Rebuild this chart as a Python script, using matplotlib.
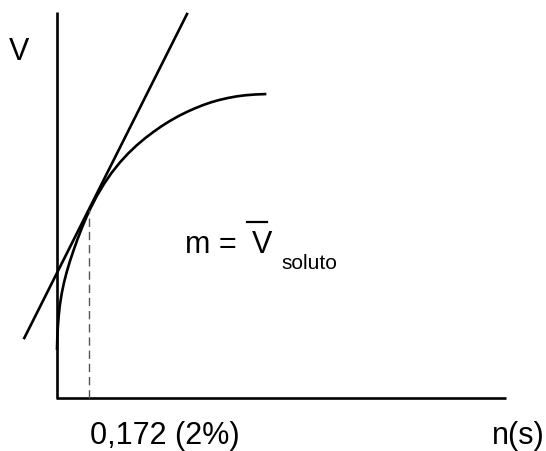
import numpy as np
import matplotlib
matplotlib.use("Agg")
import matplotlib.pyplot as plt

plt.rcParams['font.family'] = ['Liberation Sans', 'DejaVu Sans']

# curve V vs n(s) (arbitrary units, origin at axis corner)
curve_x = [0, 0.3, 0.8, 1.6, 2.8, 4.7, 7, 9.7, 13, 16.3, 20.5, 24.7, 29, 33, 39.7, 47,
           54.7, 63, 71.3, 79.5, 88, 96.3, 104.7, 113, 121.3, 129.7, 138, 146.3, 154.7,
           163, 171.3, 179.5, 188, 198, 208]
curve_y = [49.5, 59.4, 69.9, 81.1, 92.5, 104.5, 115.5, 126, 137, 146.9, 158.7, 169.6, 179.9,
           188.7, 201.8, 214.1, 225.3, 235.7, 244.7, 252.5, 259.7, 266, 271.9, 277.1, 281.8,
           286, 289.7, 293, 295.9, 298.2, 300.1, 301.6, 302.7, 303.5, 303.9]

# tangent line end points
tan_x = [-32.7, 130]
tan_y = [60, 384]

# tangent point
x_tan = 32
y_tan = 188

x_max = 449
y_max = 386

fig = plt.figure(figsize=(5.46, 4.51), dpi=100)
ax = fig.add_axes([0, 0, 1, 1])
ax.set_xlim(-57, 489)
ax.set_ylim(-53, 398)
ax.axis('off')

# axes lines
ax.plot([0, 0], [0, y_max], c='k', lw=1.9, solid_capstyle='butt')
ax.plot([-1, x_max], [0, 0], c='k', lw=1.9, solid_capstyle='butt')

ax.plot(curve_x, curve_y, c='k', lw=1.9, solid_joinstyle='round')
ax.plot(tan_x, tan_y, c='k', lw=1.9)
ax.plot([x_tan, x_tan], [0, y_tan], c='#555555', lw=1.0, dashes=(6, 3.5))

fs = 22
ax.text(-48, 338, "V", fontsize=fs, va='baseline', ha='left')
ax.text(33, -46, "0,172 (2%)", fontsize=fs, va='baseline', ha='left')
ax.text(435, -46, "n(s)", fontsize=fs, va='baseline', ha='left')
ax.text(128, 145, "m =", fontsize=fs, va='baseline', ha='left')
ax.text(195, 145, "V", fontsize=fs, va='baseline', ha='left')
ax.plot([190, 210], [176, 176], c='k', lw=1.6)
ax.text(224, 129, "soluto", fontsize=15, va='baseline', ha='left')

plt.savefig("out.png", dpi=100)
